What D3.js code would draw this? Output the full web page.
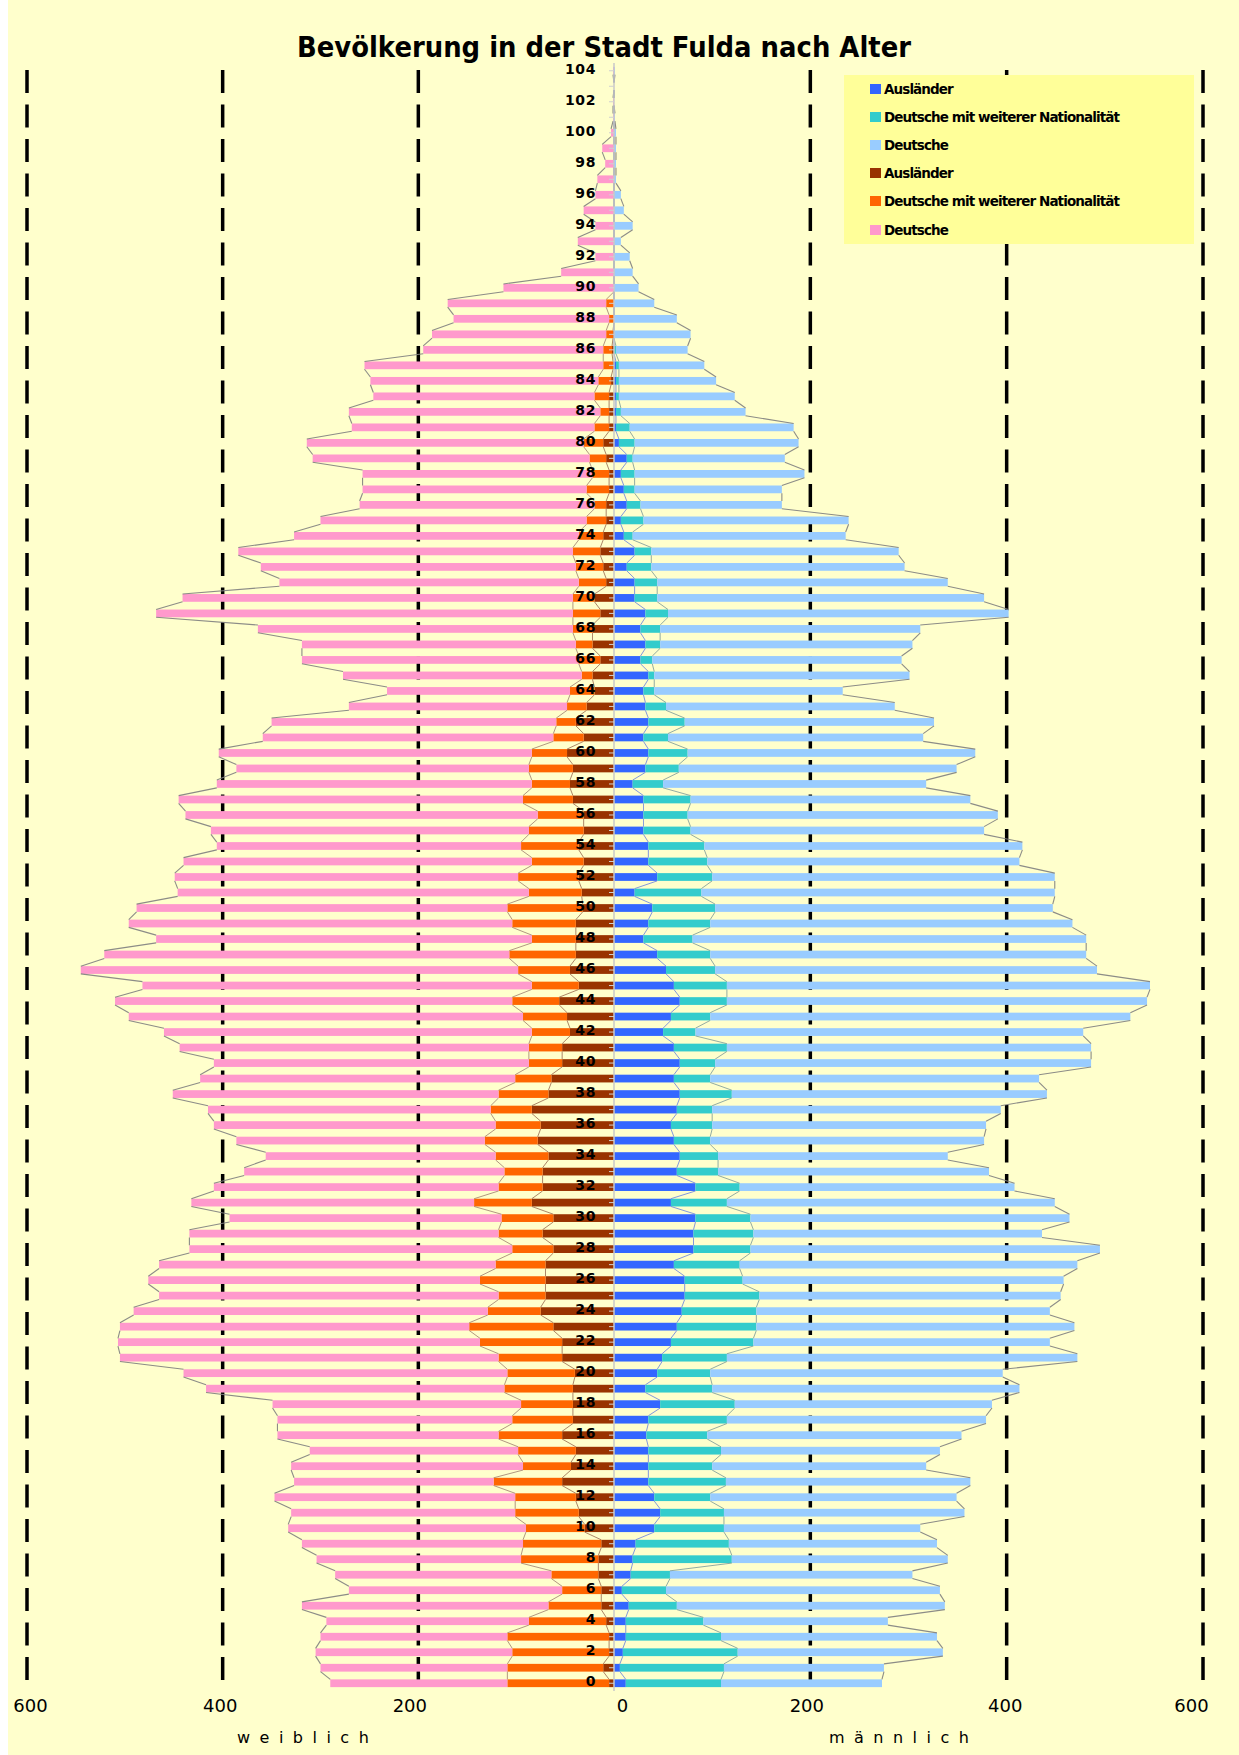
<!DOCTYPE html>
<html>
<head>
<meta charset="utf-8">
<script src="https://cdn.jsdelivr.net/npm/d3@7"></script>
<style>
  body { margin: 0; background: #fff; }
  svg { display: block; font-family: "DejaVu Sans", Verdana, sans-serif; }
</style>
</head>
<body>
<div id="chart"></div>
<script>
// Bevölkerung in der Stadt Fulda nach Alter - Bevölkerungspyramide
// links: weiblich, rechts: männlich (je Ausländer / Deutsche mit weiterer Nationalität / Deutsche)

const ages = d3.range(0, 105);

// weiblich
const wAuslaender = [
  5, 11, 5, 5, 8, 13, 13, 16, 16, 13,
  30, 36, 39, 53, 44, 39, 53, 42, 42, 42,
  40, 53, 53, 62, 75, 70, 70, 70, 62, 73,
  62, 84, 73, 73, 67, 78, 75, 84, 67, 64,
  53, 53, 45, 48, 56, 36, 45, 39, 39, 39,
  32, 33, 36, 31, 36, 31, 31, 42, 45, 42,
  48, 31, 39, 28, 20, 22, 14, 22, 22, 14,
  20, 8, 11, 14, 11, 8, 8, 5, 5, 8,
  11, 5, 5, 5, 3, 1, 2, 1, 0, 0,
  0, 0, 0, 0, 0, 0, 0, 0, 0, 0,
  0, 0, 0, 0, 0
];
const wMitWeiterer = [
  104, 98, 99, 104, 79, 54, 40, 48, 79, 80,
  60, 65, 62, 70, 49, 59, 65, 62, 53, 70,
  69, 65, 84, 86, 54, 48, 67, 51, 42, 45,
  53, 59, 45, 39, 54, 54, 46, 42, 51, 37,
  34, 34, 39, 45, 48, 48, 53, 68, 45, 65,
  77, 54, 62, 53, 59, 56, 47, 51, 39, 45,
  36, 31, 20, 20, 25, 11, 22, 17, 20, 28,
  22, 28, 28, 28, 25, 20, 12, 23, 17, 17,
  20, 15, 9, 15, 13, 10, 9, 7, 5, 8,
  0, 0, 0, 0, 0, 0, 0, 0, 0, 0,
  0, 0, 0, 0, 0
];
const wDeutsche = [
  181, 191, 201, 191, 207, 252, 218, 221, 209, 226,
  243, 229, 246, 204, 237, 213, 226, 240, 254, 305,
  331, 387, 370, 357, 362, 347, 339, 344, 330, 316,
  278, 289, 291, 266, 235, 254, 288, 289, 333, 322,
  322, 357, 376, 403, 406, 398, 447, 414, 384, 392,
  379, 359, 351, 356, 311, 325, 360, 352, 322, 299,
  320, 297, 291, 223, 187, 244, 283, 280, 322, 426,
  399, 306, 322, 342, 291, 272, 240, 229, 235, 283,
  283, 248, 257, 226, 233, 244, 184, 178, 159, 162,
  113, 54, 19, 37, 19, 31, 19, 17, 9, 12,
  3, 1, 1, 0, 1
];

// männlich
const mAuslaender = [
  12, 6, 9, 12, 12, 15, 8, 17, 19, 22,
  41, 47, 41, 35, 35, 35, 33, 35, 47, 32,
  44, 49, 58, 64, 69, 72, 72, 61, 81, 81,
  83, 58, 83, 64, 67, 61, 58, 64, 67, 61,
  67, 61, 50, 58, 67, 61, 53, 44, 30, 35,
  39, 21, 44, 35, 35, 30, 30, 30, 19, 32,
  35, 30, 35, 32, 30, 35, 27, 32, 27, 32,
  21, 21, 13, 21, 10, 7, 13, 10, 7, 13,
  5, 2, 2, 2, 2, 2, 0, 0, 0, 0,
  0, 0, 0, 0, 0, 0, 0, 0, 0, 0,
  0, 0, 0, 0, 0
];
const mMitWeiterer = [
  97, 106, 117, 97, 79, 49, 45, 40, 101, 95,
  71, 65, 57, 79, 65, 74, 62, 80, 76, 68,
  54, 66, 84, 81, 76, 76, 59, 67, 58, 61,
  56, 57, 45, 42, 39, 37, 42, 36, 53, 37,
  36, 54, 33, 40, 48, 54, 50, 54, 50, 63,
  64, 68, 56, 60, 57, 48, 45, 48, 31, 34,
  40, 25, 37, 21, 11, 6, 12, 15, 20, 23,
  23, 23, 25, 17, 9, 23, 14, 11, 14, 6,
  16, 14, 5, 3, 3, 3, 2, 0, 0, 0,
  0, 0, 0, 0, 0, 0, 0, 0, 0, 0,
  0, 0, 0, 0, 0
];
const mDeutsche = [
  164, 163, 209, 220, 188, 273, 279, 247, 220, 212,
  200, 245, 251, 249, 218, 223, 259, 264, 262, 313,
  298, 357, 302, 324, 299, 307, 327, 344, 356, 294,
  325, 334, 280, 276, 234, 279, 279, 294, 321, 335,
  383, 371, 395, 428, 428, 431, 389, 383, 401, 369,
  344, 360, 349, 318, 324, 299, 316, 285, 268, 283,
  293, 260, 254, 233, 192, 260, 254, 257, 265, 347,
  333, 296, 258, 252, 217, 209, 144, 150, 173, 155,
  167, 167, 127, 118, 99, 87, 73, 78, 64, 41,
  25, 19, 16, 7, 19, 10, 7, 2, 2, 2,
  2, 1, 0, 0, 1
];

const xTickValues = [-600, -400, -200, 0, 200, 400, 600];
const gridValues = [-600, -400, -200, 200, 400, 600];
const ageTickValues = ages.filter(a => a % 2 === 0);

const legendLabels = [
  "Ausländer", "Deutsche mit weiterer Nationalität", "Deutsche",
  "Ausländer", "Deutsche mit weiterer Nationalität", "Deutsche"
];
const legendColors = ["#3366FF", "#33CCCC", "#99CCFF", "#993300", "#FF6600", "#FF99CC"];

const W = 1239, H = 1755;

const svg = d3.select("#chart").append("svg")
  .attr("width", W)
  .attr("height", H);

// Hintergrund
svg.append("rect")
  .attr("x", 8).attr("y", 0)
  .attr("width", W - 8).attr("height", H)
  .attr("fill", "#FFFFCC");

// Skalen
const x = d3.scaleLinear()
  .domain([-600, 0, 600])
  .range([27, 614, 1203]);

const y = d3.scaleBand()
  .domain(ages)
  .range([1691, 63])
  .paddingInner(0.5)
  .paddingOuter(0.25);

const bw = y.bandwidth();

// gestrichelte Gitterlinien
svg.append("g")
  .selectAll("line")
  .data(gridValues)
  .join("line")
  .attr("x1", d => x(d)).attr("x2", d => x(d))
  .attr("y1", 70).attr("y2", 1686)
  .attr("stroke", "#000")
  .attr("stroke-width", 3.5)
  .attr("stroke-dasharray", "23,11.5");

// Daten für die Stapel
const keys = ["aus", "mit", "deu"];
const wRows = ages.map((a, i) => ({ age: a, aus: wAuslaender[i], mit: wMitWeiterer[i], deu: wDeutsche[i] }));
const mRows = ages.map((a, i) => ({ age: a, aus: mAuslaender[i], mit: mMitWeiterer[i], deu: mDeutsche[i] }));

function drawSide(rows, sign, colors, lineColors) {
  const series = d3.stack().keys(keys)(rows);

  series.forEach((s, k) => {
    svg.append("g")
      .selectAll("rect")
      .data(s)
      .join("rect")
      .attr("x", d => Math.min(x(sign * d[0]), x(sign * d[1])))
      .attr("width", d => Math.abs(x(sign * d[1]) - x(sign * d[0])))
      .attr("y", d => y(d.data.age))
      .attr("height", bw)
      .attr("fill", colors[k]);
  });

  // Reihenlinien zwischen den Balkenenden
  series.forEach((s, k) => {
    svg.append("g")
      .selectAll("line")
      .data(d3.pairs(s))
      .join("line")
      .attr("x1", d => x(sign * d[0][1]))
      .attr("y1", d => y(d[0].data.age))
      .attr("x2", d => x(sign * d[1][1]))
      .attr("y2", d => y(d[1].data.age) + bw)
      .attr("stroke", lineColors[k])
      .attr("stroke-width", k === 2 ? 1.1 : 0.9)
      .attr("opacity", 0.9);
  });
}

drawSide(wRows, -1, ["#993300", "#FF6600", "#FF99CC"], ["#9a6a50", "#a08070", "#808080"]);
drawSide(mRows, 1, ["#3366FF", "#33CCCC", "#99CCFF"], ["#6680e0", "#7a9a9a", "#808080"]);

// Nulllinie mit kleinen Strichen
svg.append("line")
  .attr("x1", x(0)).attr("x2", x(0))
  .attr("y1", 63).attr("y2", 1691)
  .attr("stroke", "#c8c8c8")
  .attr("stroke-width", 1.5);

const zeroTicks = svg.append("g")
  .attr("transform", `translate(${x(0)},0)`)
  .call(d3.axisLeft(y).tickSize(5).tickFormat(""));
zeroTicks.select(".domain").remove();
zeroTicks.selectAll(".tick line").attr("stroke", "#d0d0d0");

// Altersbeschriftung
const ageAxis = svg.append("g")
  .attr("transform", "translate(597,-1.5)")
  .call(d3.axisLeft(y).tickValues(ageTickValues).tickSize(0).tickPadding(1));
ageAxis.select(".domain").remove();
ageAxis.selectAll("text")
  .attr("font-family", "DejaVu Sans, Verdana, sans-serif")
  .attr("font-size", 14)
  .attr("font-weight", "bold")
  .attr("letter-spacing", "0.6px")
  .attr("fill", "#000");

// x-Achse
const labelShift = { "-600": 3, "-400": -3, "-200": -9, "0": 8, "200": -4, "400": -2, "600": -12 };
const xAxis = svg.append("g")
  .attr("transform", "translate(0,1699)")
  .call(d3.axisBottom(x).tickValues(xTickValues).tickFormat(d => Math.abs(d)).tickSize(0).tickPadding(0));
xAxis.select(".domain").remove();
xAxis.selectAll("text")
  .attr("font-family", "DejaVu Sans, Verdana, sans-serif")
  .attr("font-size", 18)
  .attr("fill", "#000")
  .attr("dx", d => labelShift[d]);

// Achsentitel
svg.append("text")
  .attr("x", 304).attr("y", 1743)
  .attr("text-anchor", "middle")
  .style("font-size", "16px")
  .style("letter-spacing", "2.2px")
  .text("w e i b l i c h");

svg.append("text")
  .attr("x", 900).attr("y", 1743)
  .attr("text-anchor", "middle")
  .style("font-size", "16px")
  .style("letter-spacing", "2.2px")
  .text("m ä n n l i c h");

// Titel
svg.append("text")
  .attr("x", 297).attr("y", 57)
  .attr("textLength", 614)
  .attr("lengthAdjust", "spacingAndGlyphs")
  .style("font-size", "28px")
  .style("font-weight", "bold")
  .text("Bevölkerung in der Stadt Fulda nach Alter");

// Legende
const legend = svg.append("g");
legend.append("rect")
  .attr("x", 844).attr("y", 75)
  .attr("width", 350).attr("height", 169)
  .attr("fill", "#FFFF99");

const legendRowsY = [89, 117, 145, 173, 201, 230];
const item = legend.selectAll("g.item")
  .data(legendLabels)
  .join("g")
  .attr("class", "item")
  .attr("transform", (d, i) => `translate(870,${legendRowsY[i]})`);

item.append("rect")
  .attr("x", 0).attr("y", -5)
  .attr("width", 11).attr("height", 10)
  .attr("fill", (d, i) => legendColors[i]);

item.append("text")
  .attr("x", 14).attr("y", 5)
  .style("font-size", "13.5px")
  .style("font-weight", "bold")
  .style("letter-spacing", "-0.9px")
  .text(d => d);
</script>
</body>
</html>
